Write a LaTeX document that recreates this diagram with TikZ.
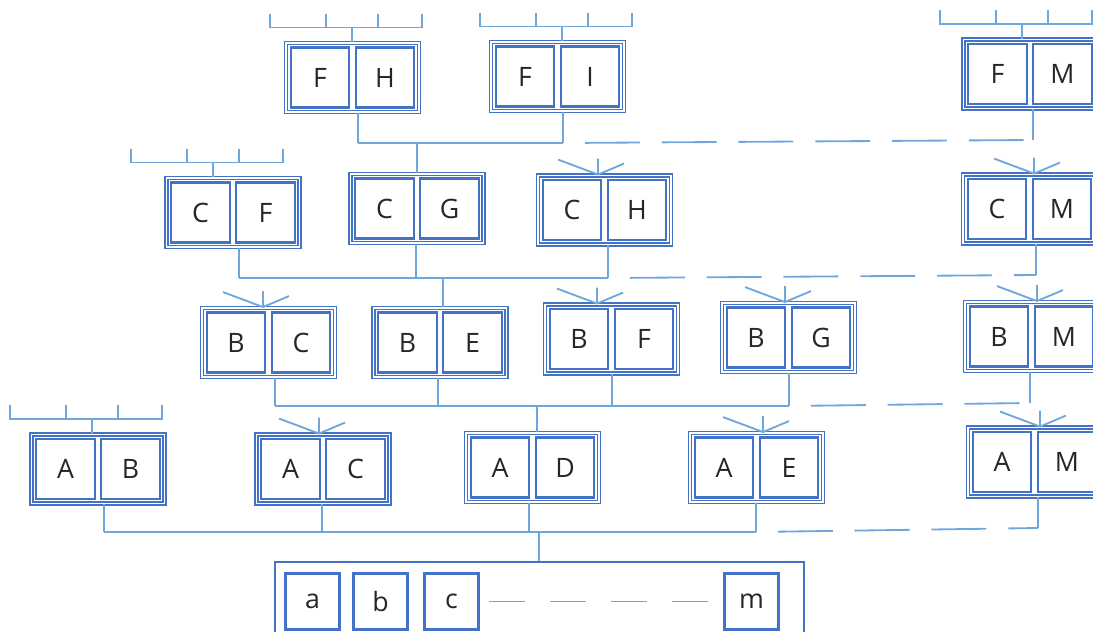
\documentclass[tikz,border=0pt]{standalone}
\usepackage{fontspec}
\setmainfont{Open Sans}
\usepackage{tikz}
\usetikzlibrary{positioning,fit}
\definecolor{boxblue}{HTML}{4472C4}
\definecolor{lineblue}{HTML}{6FA6DC}

\begin{document}
\begin{tikzpicture}[x=0.025cm,y=-0.025cm,
  cell/.style={rectangle,draw=boxblue,line width=1.5pt,minimum width=1.47cm,minimum height=1.5cm,inner sep=0pt,text=black!85,font=\fontsize{19}{22}\selectfont},
  leafcell/.style={cell,minimum width=1.35cm,minimum height=1.4cm},
  pairbox/.style={rectangle,draw=boxblue,double=white,double distance=1.1pt,line width=1.1pt,inner sep=0.09cm},
  link/.style={lineblue,line width=1.3pt},
  dashlink/.style={link,dash pattern=on 39pt off 15.6pt,dash phase=39pt}]
\useasboundingbox (0,0) rectangle (1093,632);
\foreach \nm/\x/\y/\one/\two in {fh/352.5/77.5/F/H, fi/557.5/76.5/F/I, fm/1030/74/F/M,
    cf/233/212.5/C/F, cg/417/208.5/C/G, ch/604.5/210/C/H, cm/1029.5/209/C/M,
    bc/268.5/342.5/B/C, be/440/342.5/B/E, bf/611.5/339/B/F, bg/788.5/337.5/B/G, bm/1031.5/336.5/B/M,
    ab/98/469/A/B, ac/323/469/A/C, ad/532.5/467.5/A/D, ae/756.5/467.5/A/E, am/1034.5/462/A/M} {
    \node[cell] (\nm-l) at ({\x-32.5},\y) {\one};
    \node[cell] (\nm-r) at ({\x+32.5},\y) {\two};
    \node[pairbox,fit=(\nm-l)(\nm-r)] (\nm) {};
}
\node[rectangle,draw=boxblue,line width=1.5pt,minimum width=13.225cm,minimum height=2.1cm] (base) at (539.5,604) {};
\foreach \nm/\x in {a/312.5, b/380.5, c/451.5, m/751.5}
    \node[leafcell] (leaf-\nm) at (\x,601.5) {\nm};
\draw[link,dash pattern=on 25.6pt off 17.8pt,dash phase=36.4pt] (leaf-c.east) -- (leaf-m.west);
\foreach \nm/\sx in {fh/352, fi/562, fm/1022, cf/213, ab/92} {
    \draw[link] (\nm.north -| \sx,0) -- ++(0,-14.5) coordinate (k);
    \draw[link] (k) ++(-82,-14) -- ++(0,14) -- ++(152,0) -- ++(0,-14);
    \draw[link] (k) ++(-26,0) -- ++(0,-14) (k) ++(26,0) -- ++(0,-14);
}
\foreach \nm/\ax in {ch/598, cm/1034, bc/263, bf/597, bg/785, bm/1037, ac/319, ae/763, am/1040} {
    \coordinate (j) at (\nm.north -| \ax,0);
    \draw[link] (j) -- ++(-40,-15) (j) -- ++(26,-11) (j) -- ++(0,-16);
}
\coordinate (b1) at (0,143);
\coordinate (b2) at (0,278);
\coordinate (b3) at (0,406);
\coordinate (b4) at (0,532);
\foreach \nm/\sx/\bus in {fh/358/b1, fi/563/b1, cf/239/b2, cg/416/b2, ch/608/b2,
    bc/275/b3, be/438/b3, bf/612/b3, bg/789/b3, ab/104/b4, ac/322/b4, ad/529/b4, ae/756/b4}
    \draw[link] (\nm.south -| \sx,0) -- (\bus -| \sx,0);
\foreach \bus/\xa/\xb/\dx/\tgt in {b1/358/563/417/cg, b2/239/608/443/be, b3/275/789/537/ad, b4/104/756/539/base} {
    \draw[link] (\bus -| \xa,0) -- (\bus -| \xb,0);
    \draw[link] (\bus -| \dx,0) -- (\tgt.north -| \dx,0);
}
\foreach \nm/\sx/\ey/\bus/\xb in {fm/1033/140/b1/563, cm/1036/275/b2/608, bm/1030/403/b3/789, am/1038/528/b4/756} {
    \draw[link] (\nm.south -| \sx,0) -- (\sx,\ey) coordinate (e);
    \draw[dashlink] (\bus -| \xb,0) -- (e);
}
\end{tikzpicture}
\end{document}
